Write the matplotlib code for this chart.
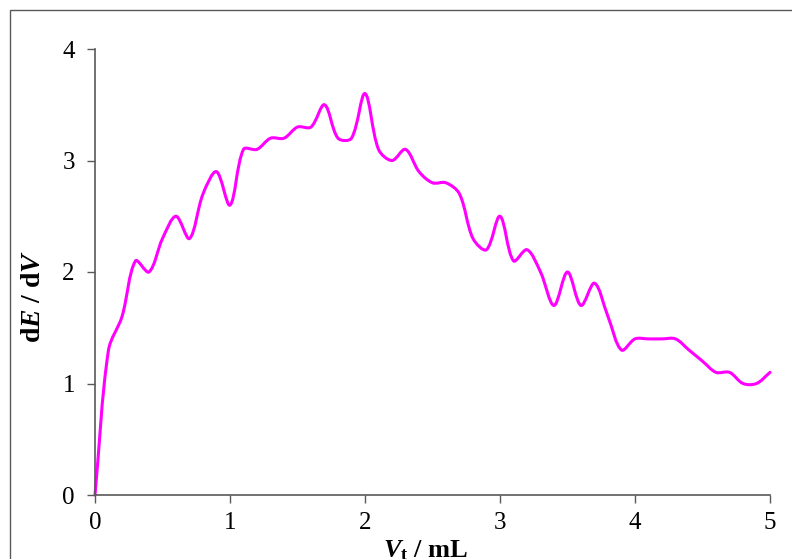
import numpy as np
import matplotlib
matplotlib.use('Agg')
import matplotlib.pyplot as plt
from matplotlib.path import Path
from matplotlib.patches import PathPatch, Rectangle

# titrant volume (mL) and first derivative values
volume = [0.0, 0.1, 0.2, 0.3, 0.4, 0.5, 0.6, 0.7, 0.8, 0.9,
          1.0, 1.1, 1.2, 1.3, 1.4, 1.5, 1.6, 1.7, 1.8, 1.9,
          2.0, 2.1, 2.2, 2.3, 2.4, 2.5, 2.6, 2.7, 2.8, 2.9,
          3.0, 3.1, 3.2, 3.3, 3.4, 3.5, 3.6, 3.7, 3.8, 3.9,
          4.0, 4.1, 4.2, 4.3, 4.4, 4.5, 4.6, 4.7, 4.8, 4.9, 5.0]
dE_dV = [0.0, 1.3, 1.6, 2.1, 2.0, 2.3, 2.5, 2.3, 2.7, 2.9,
         2.6, 3.1, 3.1, 3.2, 3.2, 3.3, 3.3, 3.5, 3.2, 3.2,
         3.6, 3.1, 3.0, 3.1, 2.9, 2.8, 2.8, 2.7, 2.3, 2.2,
         2.5, 2.1, 2.2, 2.0, 1.7, 2.0, 1.7, 1.9, 1.6, 1.3,
         1.4, 1.4, 1.4, 1.4, 1.3, 1.2, 1.1, 1.1, 1.0, 1.0, 1.1]

x_ticks = [0, 1, 2, 3, 4, 5]
y_ticks = [0, 1, 2, 3, 4]

plt.rcParams['font.family'] = ['Liberation Serif', 'DejaVu Serif']
plt.rcParams['mathtext.fontset'] = 'custom'
plt.rcParams['mathtext.rm'] = 'Liberation Serif:bold'
plt.rcParams['mathtext.it'] = 'Liberation Serif:italic:bold'
plt.rcParams['mathtext.bf'] = 'Liberation Serif:bold'

axis_col = '#595959'

fig = plt.figure(figsize=(7.92, 5.59), dpi=100)
W, H = 792, 559

# outer chart-area border (cropped on the right and bottom)
fig.patches.append(Rectangle((10 / W, -0.2), 1.2, 1 - 10 / H + 0.2,
                             transform=fig.transFigure, fill=False,
                             edgecolor=axis_col, linewidth=1.0))

ax = fig.add_axes([95 / W, 1 - 495 / H, (770 - 95) / W, (495 - 49) / H])
ax.set_xlim(0, 5)
ax.set_ylim(0, 4)

# smoothed line (Bezier through the points, tangents scaled by chord length
# in screen space, similar to a spreadsheet "smoothed line")
pts = ax.transData.transform(np.column_stack([volume, dE_dV]))
padded = np.vstack([pts[0], pts, pts[-1]])
verts = [pts[0]]
codes = [Path.MOVETO]
for i in range(len(pts) - 1):
    p0, p1, p2, p3 = padded[i], padded[i + 1], padded[i + 2], padded[i + 3]
    d01 = np.hypot(*(p1 - p0))
    d12 = np.hypot(*(p2 - p1))
    d23 = np.hypot(*(p3 - p2))
    f1 = d12 / (d01 + d12) / 3.0 if d01 + d12 > 0 else 0.0
    f2 = d12 / (d12 + d23) / 3.0 if d12 + d23 > 0 else 0.0
    c1 = p1 + (p2 - p0) * f1
    c2 = p2 - (p3 - p1) * f2
    verts += [c1, c2, p2]
    codes += [Path.CURVE4] * 3
verts = ax.transData.inverted().transform(np.array(verts))
ax.add_patch(PathPatch(Path(verts, codes), facecolor='none',
                       edgecolor='#FF00FF', linewidth=2.2,
                       capstyle='round', joinstyle='round', clip_on=False))

ax.set_xticks(x_ticks)
ax.set_yticks(y_ticks)
ax.spines['top'].set_visible(False)
ax.spines['right'].set_visible(False)
for s in ['left', 'bottom']:
    ax.spines[s].set_color(axis_col)
    ax.spines[s].set_linewidth(1.2)
ax.tick_params(axis='both', direction='out', length=5.5, width=1.0,
               color=axis_col, labelsize=18, labelcolor='black')
ax.tick_params(axis='y', pad=9)
ax.tick_params(axis='x', pad=7)

fig.text(33 / W, 1 - 296 / H, r'd$E$ / d$V$', rotation=90, ha='center',
         va='center', fontsize=20, fontweight='bold')
fig.text(426 / W, 1 - 557 / H, r'$V_{\mathrm{t}}$ / mL', ha='center',
         va='baseline', fontsize=19, fontweight='bold')

fig.savefig('out.png', dpi=100)
